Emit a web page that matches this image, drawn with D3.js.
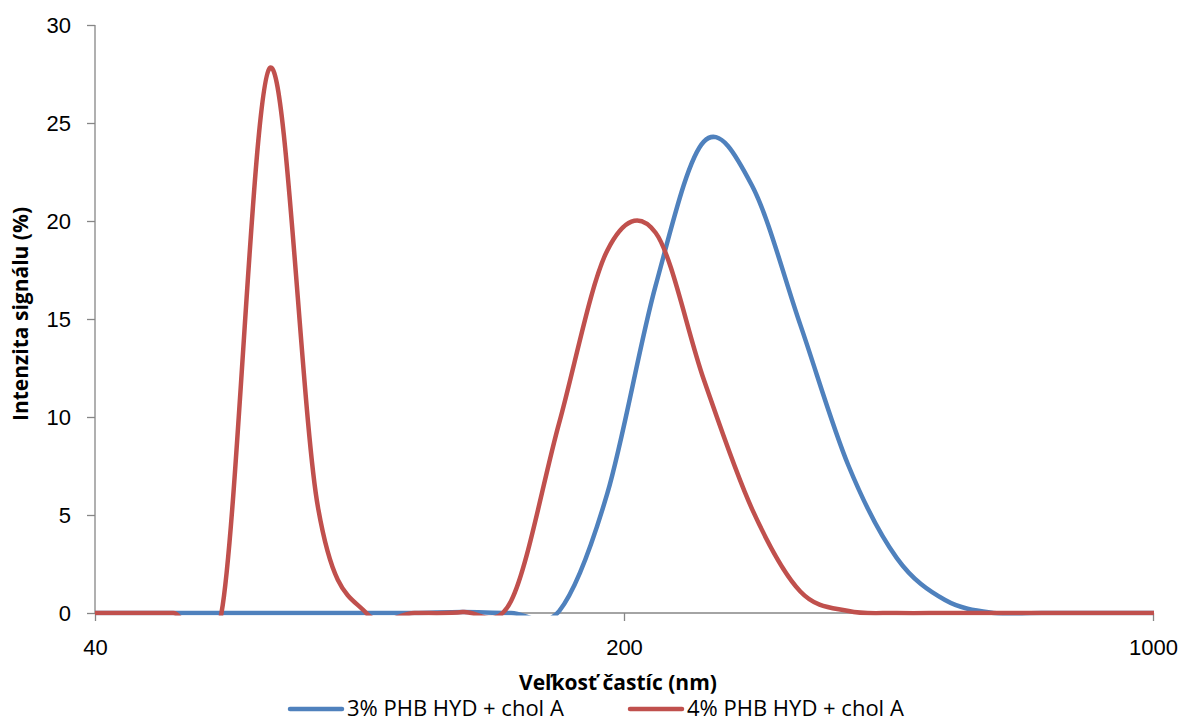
<!DOCTYPE html>
<meta charset="utf-8">
<style>

body {
  margin: 0;
  background: #fff;
}

svg {
  font-family: "Open Sans", sans-serif;
}

.axis path,
.axis line {
  stroke: #868686;
  stroke-width: 1.3px;
}

.axis text {
  font-size: 22px;
  fill: #000;
}

</style>
<svg width="1183" height="722"></svg>
<script src="https://d3js.org/d3.v7.min.js"></script>
<script>

// particle size bins (nm) and intensity (%)
var sizes = [37.84, 43.82, 50.75, 58.77, 68.06, 78.82, 91.28, 105.7, 122.4, 141.8, 164.2, 190.1,
             220.2, 255.0, 295.3, 342.0, 396.1, 458.7, 531.2, 615.1, 712.4, 825.0, 955.4, 1106];

var blue = [0, 0, 0, 0, 0, 0, 0, 0, 0.05, 0, 0.1, 6.1,
            16.7, 24.05, 21.8, 14.7, 7.5, 2.8, 0.66, 0, 0, 0, 0, 0];

var red = [0, 0, 0, 0, 27.8, 5.4, 0, 0, 0.05, 0.6, 9.7, 18.5,
           19.4, 11.9, 5.3, 1.1, 0.1, 0, 0, 0, 0, 0, 0, 0];

var seriesNames = ["3% PHB HYD + chol A", "4% PHB HYD + chol A"];
var colors = ["#4f81bd", "#c0504d"];
var xTicks = [40, 200, 1000];
var yTicks = [0, 5, 10, 15, 20, 25, 30];

</script>
<script>

var svg = d3.select("svg");

var x = d3.scaleLog().domain([40, 1000]).range([95, 1153]),
    y = d3.scaleLinear().domain([0, 30]).range([613, 25]);

svg.append("defs").append("clipPath")
    .attr("id", "plot")
  .append("rect")
    .attr("x", 95)
    .attr("y", 20)
    .attr("width", 1153 - 95 + 1)
    .attr("height", 613 - 20 + 2.5);

svg.append("g")
    .attr("class", "axis")
    .attr("transform", "translate(95,0)")
    .call(d3.axisLeft(y).tickValues(yTicks).tickSize(8).tickSizeOuter(0).tickPadding(16))
    .call(function(g) { g.select(".domain").attr("d", "M0," + y(30) + "V" + y(0)); });

svg.append("g")
    .attr("class", "axis")
    .attr("transform", "translate(0,613)")
    .call(d3.axisBottom(x).tickValues(xTicks).tickFormat(d3.format("d")).tickSize(8).tickSizeOuter(0).tickPadding(18))
    .call(function(g) { g.select(".domain").attr("d", "M95,0H1153"); });

var line = d3.line()
    .x(function(d, i) { return x(sizes[i]); })
    .y(function(d) { return y(d); })
    .curve(d3.curveCatmullRom.alpha(0));

svg.append("g")
    .attr("clip-path", "url(#plot)")
  .selectAll("path")
  .data([blue, red])
  .enter().append("path")
    .attr("fill", "none")
    .attr("stroke", function(d, i) { return colors[i]; })
    .attr("stroke-width", 4.5)
    .attr("stroke-linejoin", "round")
    .attr("d", line);

svg.append("text")
    .attr("x", 618)
    .attr("y", 690)
    .attr("text-anchor", "middle")
    .style("font-size", "21px")
    .style("font-weight", "bold")
    .text("Veľkosť častíc (nm)");

svg.append("text")
    .attr("transform", "translate(28,314)rotate(-90)")
    .attr("text-anchor", "middle")
    .style("font-size", "21px")
    .style("font-weight", "bold")
    .text("Intenzita signálu (%)");

var legend = svg.selectAll(".legend")
  .data(seriesNames)
  .enter().append("g")
    .attr("class", "legend")
    .attr("transform", function(d, i) { return "translate(" + [290, 630][i] + ",709)"; });

legend.append("line")
    .attr("x1", 0)
    .attr("x2", 52)
    .attr("stroke", function(d, i) { return colors[i]; })
    .attr("stroke-width", 4.5)
    .attr("stroke-linecap", "round");

legend.append("text")
    .attr("x", 57)
    .attr("y", 7)
    .style("font-size", "22px")
    .text(function(d) { return d; });

</script>
